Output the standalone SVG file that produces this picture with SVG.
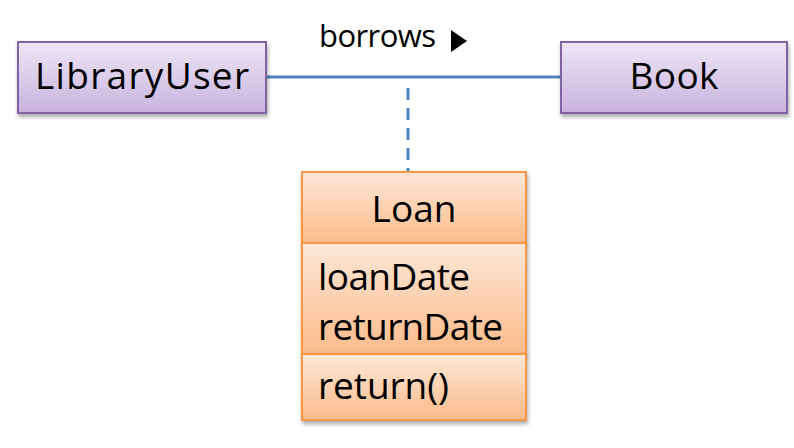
<svg xmlns="http://www.w3.org/2000/svg" width="794" height="448" viewBox="0 0 794 448">
<defs>
<linearGradient id="gp" x1="0" y1="0" x2="0" y2="1">
<stop offset="0" stop-color="#eee7f6"/>
<stop offset="1" stop-color="#c8b2df"/>
</linearGradient>
<linearGradient id="go" x1="0" y1="0" x2="0" y2="1">
<stop offset="0" stop-color="#fee8d8"/>
<stop offset="1" stop-color="#fbbb8a"/>
</linearGradient>
<filter id="sh" x="-10%" y="-10%" width="130%" height="130%">
<feGaussianBlur in="SourceAlpha" stdDeviation="2"/>
<feOffset dx="1" dy="3"/>
<feComponentTransfer><feFuncA type="linear" slope="0.35"/></feComponentTransfer>
<feMerge><feMergeNode/><feMergeNode in="SourceGraphic"/></feMerge>
</filter>
</defs>
<style>
text{font-family:"Open Sans","Liberation Sans",sans-serif;fill:#000}
.p{fill:url(#gp);stroke:#8064a2;stroke-width:2}
.o{fill:url(#go);stroke:#f79646;stroke-width:2}
.t{font-size:37px}
.s{font-size:31px}
</style>
<g id="connectors">
<line x1="266" y1="77" x2="561" y2="77" stroke="#4f81bd" stroke-width="3"/>
<line x1="408" y1="88" x2="408" y2="172" stroke="#4f81bd" stroke-width="3" stroke-dasharray="12,8"/>
<text x="319" y="47" class="s" textLength="117" lengthAdjust="spacing">borrows</text>
<polygon points="451,30 467,41 451,52" fill="#000"/>
</g>
<g id="LibraryUser">
<rect x="18" y="42" width="248" height="71" class="p" filter="url(#sh)"/>
<text x="142" y="89" class="t" text-anchor="middle" textLength="214" lengthAdjust="spacing">LibraryUser</text>
</g>
<g id="Book">
<rect x="561" y="42" width="226" height="71" class="p" filter="url(#sh)"/>
<text x="674" y="89" class="t" text-anchor="middle" textLength="89" lengthAdjust="spacing">Book</text>
</g>
<g id="Loan">
<rect x="302" y="172" width="224" height="71" class="o" filter="url(#sh)"/>
<rect x="302" y="243" width="224" height="111" class="o" filter="url(#sh)"/>
<rect x="302" y="354" width="224" height="66" class="o" filter="url(#sh)"/>
<text x="414" y="222" class="t" text-anchor="middle" textLength="85" lengthAdjust="spacing">Loan</text>
<text x="318" y="290" class="t" textLength="152" lengthAdjust="spacing">loanDate</text>
<text x="318" y="340" class="t" textLength="185" lengthAdjust="spacing">returnDate</text>
<text x="318" y="399" class="t" textLength="131" lengthAdjust="spacing">return()</text>
</g>
</svg>
